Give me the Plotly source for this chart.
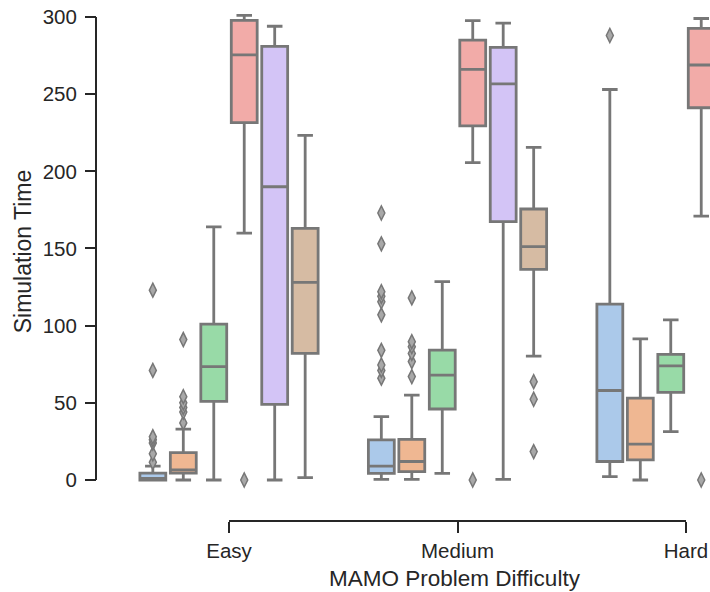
import colorsys
import plotly.graph_objects as go

# ---------------- data ----------------
categories = ["Easy", "Medium", "Hard"]
series_names = ["S1", "S2", "S3", "S4", "S5", "S6"]

blue_q1 = [0, 4.3, 12]
blue_med = [1, 9, 58]
blue_q3 = [4.5, 26, 114]
blue_lo = [0, 0.4, 2.2]
blue_hi = [9, 41, 253]
blue_out = [[123, 71, 28, 26, 24, 17, 11.5],
            [173, 153, 122, 119, 115.5, 107, 84, 74.5, 71, 66],
            [288]]

orange_q1 = [4.5, 5.4, 13]
orange_med = [6.5, 12, 23.3]
orange_q3 = [17.7, 26.3, 53]
orange_lo = [0, 0.4, 0]
orange_hi = [33, 55, 91.4]
orange_out = [[91, 54, 50, 47, 44, 37],
              [118, 89.6, 86.4, 82, 76.7, 67],
              []]

green_q1 = [51, 46, 56.8]
green_med = [73.5, 68, 74]
green_q3 = [101, 84.2, 81.4]
green_lo = [0, 4.3, 31.3]
green_hi = [164, 128.5, 103.7]
green_out = [[], [], []]

red_q1 = [231.5, 229.4, 241.2]
red_med = [275.4, 266, 268.9]
red_q3 = [297.8, 285, 292.6]
red_lo = [160, 205.6, 171]
red_hi = [301, 297.6, 299]
red_out = [[0], [0], [0]]

purple_cats = ["Easy", "Medium"]
purple_q1 = [49, 167.4]
purple_med = [190, 256.6]
purple_q3 = [281, 280.3]
purple_lo = [0, 0.4]
purple_hi = [294, 296]
purple_out = [[], []]

brown_cats = ["Easy", "Medium"]
brown_q1 = [82, 136.5]
brown_med = [128, 151.2]
brown_q3 = [163, 175.6]
brown_lo = [1.5, 80.3]
brown_hi = [223.3, 215.5]
brown_out = [[], [63.7, 52.3, 18.4]]

y_ticks = [0, 50, 100, 150, 200, 250, 300]

# ---------------- styling ----------------
pastel = ["#a1c9f4", "#ffb482", "#8de5a1", "#ff9f9b", "#d0bbff", "#debb9b"]


def desat(hx, prop=0.75):
    r, g, b = (int(hx[i:i + 2], 16) / 255 for i in (1, 3, 5))
    h, l, s = colorsys.rgb_to_hls(r, g, b)
    r, g, b = colorsys.hls_to_rgb(h, l, s * prop)
    return "#%02x%02x%02x" % (round(r * 255), round(g * 255), round(b * 255))


colors = [desat(c) for c in pastel]
LINE = "#777777"
INK = "#262626"
FONT = "Liberation Sans, Arial, sans-serif"

series = [
    (categories, blue_q1, blue_med, blue_q3, blue_lo, blue_hi, blue_out),
    (categories, orange_q1, orange_med, orange_q3, orange_lo, orange_hi, orange_out),
    (categories, green_q1, green_med, green_q3, green_lo, green_hi, green_out),
    (categories, red_q1, red_med, red_q3, red_lo, red_hi, red_out),
    (purple_cats, purple_q1, purple_med, purple_q3, purple_lo, purple_hi, purple_out),
    (brown_cats, brown_q1, brown_med, brown_q3, brown_lo, brown_hi, brown_out),
]

fig = go.Figure()
for i, (cats, q1, med, q3, lo, hi, out) in enumerate(series):
    # rows without any outlier get a single missing value so plotly keeps the 2-D shape
    pts = [list(r) if len(r) else [None] for r in out]
    fig.add_trace(go.Box(
        name=series_names[i],
        x=cats, q1=q1, median=med, q3=q3, lowerfence=lo, upperfence=hi,
        y=pts,
        boxpoints="outliers", jitter=0, pointpos=0,
        fillcolor=colors[i],
        line=dict(color=LINE, width=2.8),
        whiskerwidth=0.6,
        marker=dict(symbol="diamond-tall", size=10, color="#a8a8a8",
                    line=dict(color=LINE, width=1.5)),
        offsetgroup=str(i),
        showlegend=False,
    ))

W, H = 710, 592
ML, MB = 96, 71
paper_w = W - ML
paper_h = H - MB

fig.update_layout(
    width=W, height=H,
    margin=dict(l=ML, r=0, t=0, b=MB, pad=0),
    boxmode="group", boxgap=0.2, boxgroupgap=0.15,
    plot_bgcolor="white", paper_bgcolor="white",
    font=dict(family=FONT, color=INK, size=20),
    xaxis=dict(
        type="category", categoryorder="array", categoryarray=categories,
        domain=[(114.75 - ML) / paper_w, 1], range=[-0.5, 2.105],
        anchor="free", position=0,
        showline=False, showgrid=False, zeroline=False,
        ticks="outside", ticklen=11, tickwidth=2, tickcolor=INK,
        tickfont=dict(size=20.5, color=INK),
        automargin=False,
    ),
    yaxis=dict(
        domain=[(paper_h - 503) / paper_h, 1], range=[-14.9, 311.0],
        anchor="free", position=0,
        tickvals=y_ticks,
        showline=False, showgrid=False, zeroline=False,
        ticks="outside", ticklen=11, tickwidth=2, tickcolor=INK,
        ticklabelstandoff=4,
        tickfont=dict(size=20.5, color=INK),
        title=dict(text="Simulation Time", font=dict(size=23, color=INK), standoff=3),
        automargin=False,
    ),
    annotations=[
        dict(text="MAMO Problem Difficulty", xref="paper", yref="paper",
             x=(455 - ML) / paper_w, y=(paper_h - 578) / paper_h,
             xanchor="center", yanchor="middle", showarrow=False,
             font=dict(size=22.5, color=INK)),
    ],
    shapes=[
        dict(type="line", xref="paper", yref="y", x0=0, x1=0, y0=y_ticks[0], y1=y_ticks[-1],
             line=dict(color=INK, width=2)),
        dict(type="line", xref="x", yref="paper", x0=categories[0], x1=categories[-1], y0=0, y1=0,
             line=dict(color=INK, width=2)),
    ],
)

fig.write_html("out.html", config={"displayModeBar": False})
